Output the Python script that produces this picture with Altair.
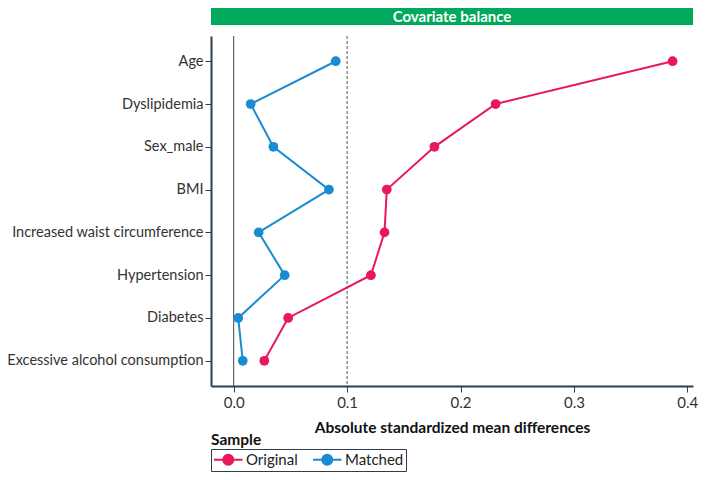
import altair as alt
import pandas as pd

covariates = ["Age", "Dyslipidemia", "Sex_male", "BMI",
              "Increased waist circumference", "Hypertension",
              "Diabetes", "Excessive alcohol consumption"]
original = [0.387, 0.231, 0.177, 0.135, 0.133, 0.121, 0.048, 0.027]
matched = [0.090, 0.015, 0.035, 0.084, 0.022, 0.045, 0.004, 0.008]
samples = ["Original", "Matched"]
colors = ["#e8185a", "#1a8bd0"]

rows = []
for i, c in enumerate(covariates):
    rows.append({"covariate": c, "idx": i, "smd": original[i], "Sample": "Original"})
    rows.append({"covariate": c, "idx": i, "smd": matched[i], "Sample": "Matched"})
df = pd.DataFrame(rows)

FONT = "Lato"
AXIS_COL = "#2c3e50"
W, H = 482, 350

# legend glyph: short line with a dot, drawn in a 15px symbol box (unit = 7.5px)
LEGEND_GLYPH = ("M-1,0L2.8,0"
                "M1.57,0A0.67,0.67,0,1,1,0.23,0A0.67,0.67,0,1,1,1.57,0Z")

xenc = alt.X("smd:Q", title="Absolute standardized mean differences",
             scale=alt.Scale(domain=[-0.02, 0.405], nice=False, zero=False),
             axis=alt.Axis(values=[0, 0.1, 0.2, 0.3, 0.4], format=".1f", grid=False,
                           domainColor=AXIS_COL, domainWidth=2, tickColor=AXIS_COL,
                           tickWidth=1, tickSize=6, labelFontSize=15, labelColor="#333",
                           labelPadding=3, titleFontSize=15.5, titleFontWeight="bold",
                           titleColor="#111", titlePadding=10, labelFont=FONT, titleFont=FONT))
yenc = alt.Y("covariate:N", title=None, sort=covariates,
             scale=alt.Scale(padding=0.59),
             axis=alt.Axis(grid=False, domainColor=AXIS_COL, domainWidth=2,
                           tickColor=AXIS_COL, tickWidth=1, tickSize=6,
                           labelFontSize=14.5, labelColor="#333", labelPadding=2,
                           labelFont=FONT, labelLimit=300))
cenc = alt.Color("Sample:N", scale=alt.Scale(domain=samples, range=colors),
                 legend=alt.Legend(title=None, orient="none", legendX=0, legendY=413,
                                   direction="horizontal", strokeColor=AXIS_COL,
                                   padding=2, labelFontSize=15, labelFont=FONT,
                                   labelColor="#222", columnPadding=11,
                                   symbolSize=225, symbolStrokeWidth=2,
                                   symbolType=LEGEND_GLYPH,
                                   labelOffset=16))

base = alt.Chart(df)

lines = base.mark_line(strokeWidth=2).encode(x=xenc, y=yenc, color=cenc, order="idx:Q")
points = base.mark_point(filled=True, size=95, opacity=1).encode(x=xenc, y=yenc, color=cenc)

ref_df = pd.DataFrame({"v": [0.0, 0.1], "kind": ["zero", "thr"]})
zero_rule = alt.Chart(ref_df).transform_filter("datum.kind == 'zero'").mark_rule(
    color="#444", strokeWidth=1).encode(x="v:Q")
thr_rule = alt.Chart(ref_df).transform_filter("datum.kind == 'thr'").mark_rule(
    color="#555", strokeWidth=1, strokeDash=[3, 2]).encode(x="v:Q")

header_df = pd.DataFrame({"label": ["Covariate balance"]})
header = alt.Chart(header_df).mark_rect(color="#00a95c").encode(
    x=alt.value(0), x2=alt.value(W), y=alt.value(-28), y2=alt.value(-11))
header_text = alt.Chart(header_df).mark_text(
    color="white", fontWeight="bold", fontSize=15, font=FONT, baseline="middle"
).encode(x=alt.value(W / 2), y=alt.value(-19.5), text="label:N")

legend_title_df = pd.DataFrame({"label": ["Sample"]})
legend_title = alt.Chart(legend_title_df).mark_text(
    fontWeight="bold", fontSize=15.5, font=FONT, align="left", baseline="middle", color="#111"
).encode(x=alt.value(0), y=alt.value(404), text="label:N")

chart = alt.layer(zero_rule, thr_rule, lines, points, header, header_text, legend_title).properties(
    width=W, height=H,
    autosize=alt.AutoSizeParams(type="none"),
    padding={"left": 203, "top": 28, "right": 8, "bottom": 86},
).configure_view(stroke=None).resolve_scale(color="shared")

chart.save("out.html", embed_options={"renderer": "svg", "actions": False})
